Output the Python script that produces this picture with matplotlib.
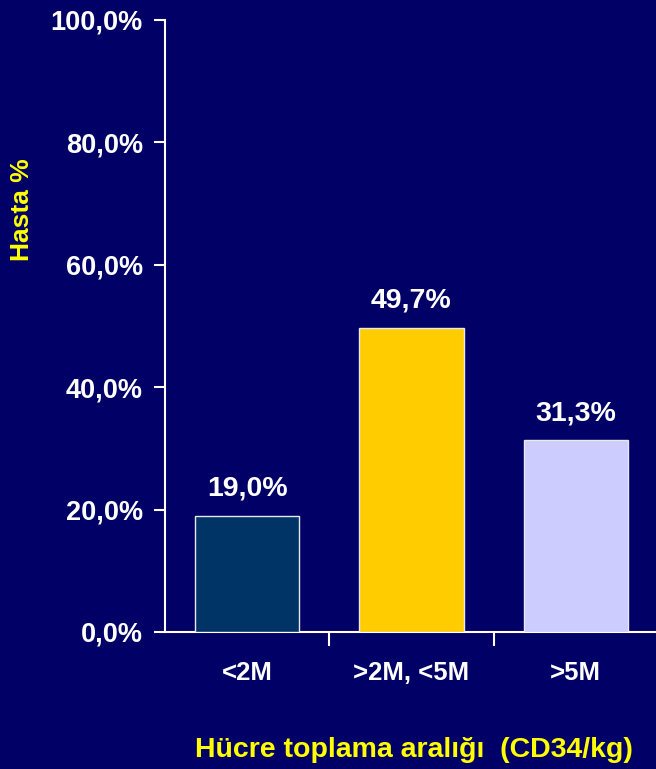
import matplotlib
matplotlib.use("Agg")
import matplotlib.pyplot as plt
from matplotlib.ticker import FuncFormatter

categories = ["<2M", ">2M, <5M", ">5M"]
values = [19.0, 49.7, 31.3]
bar_colors = ["#003366", "#FFCC00", "#CCCCFF"]
y_ticks = [0, 20, 40, 60, 80, 100]
y_label = "Hasta %"
x_label = "Hücre toplama aralığı  (CD34/kg)"

BG = "#000066"
WHITE = "#FFFFFF"
YELLOW = "#FFFF00"

plt.rcParams["font.family"] = ["Liberation Sans", "DejaVu Sans"]
plt.rcParams["font.weight"] = "bold"

fig = plt.figure(figsize=(6.56, 7.69), dpi=100, facecolor=BG)
ax = fig.add_axes([165 / 656, 1 - 632 / 769, 493 / 656, 612 / 769], facecolor=BG)

x = range(len(categories))
bars = ax.bar(x, values, width=0.635, color=bar_colors, edgecolor="#E8E8F0", linewidth=1.0, zorder=3)

for rect, v in zip(bars, values):
    ax.text(rect.get_x() + rect.get_width() / 2, v + 2.3, f"{v:.1f}%".replace(".", ","),
            ha="center", va="bottom", color=WHITE, fontsize=20.5, fontweight="bold")

ax.set_xlim(-0.5, len(categories) - 0.5)
ax.set_ylim(0, 100)
ax.set_yticks(y_ticks)
ax.yaxis.set_major_formatter(FuncFormatter(lambda v, _: f"{v:.1f}%".replace(".", ",")))

ax.set_xticks([i + 0.5 for i in range(len(categories))])
ax.set_xticklabels([])
ax.set_xticks(list(x), minor=True)
ax.set_xticklabels(categories, minor=True)
ax.tick_params(axis="x", which="major", direction="out", length=10, width=1.5, color=WHITE)
ax.tick_params(axis="x", which="minor", length=0, pad=21, labelsize=18.5, labelcolor=WHITE)
ax.tick_params(axis="y", direction="out", length=8, width=1.5, color=WHITE, pad=8,
               labelsize=19.5, labelcolor=WHITE)
for lab in ax.get_xticklabels(minor=True) + ax.get_yticklabels():
    lab.set_fontweight("bold")

for side in ("top", "right"):
    ax.spines[side].set_visible(False)
for side in ("left", "bottom"):
    ax.spines[side].set_color(WHITE)
    ax.spines[side].set_linewidth(1.5)
ax.spines["left"].set_bounds(0, 100)

fig.text(22 / 656, 1 - 210 / 769, y_label, rotation=90, ha="center", va="center",
         color=YELLOW, fontsize=19, fontweight="bold")
fig.text(414 / 656, 1 - 750 / 769, x_label, ha="center", va="center",
         color=YELLOW, fontsize=20.5, fontweight="bold")

fig.savefig("out.png", dpi=100, facecolor=BG)
